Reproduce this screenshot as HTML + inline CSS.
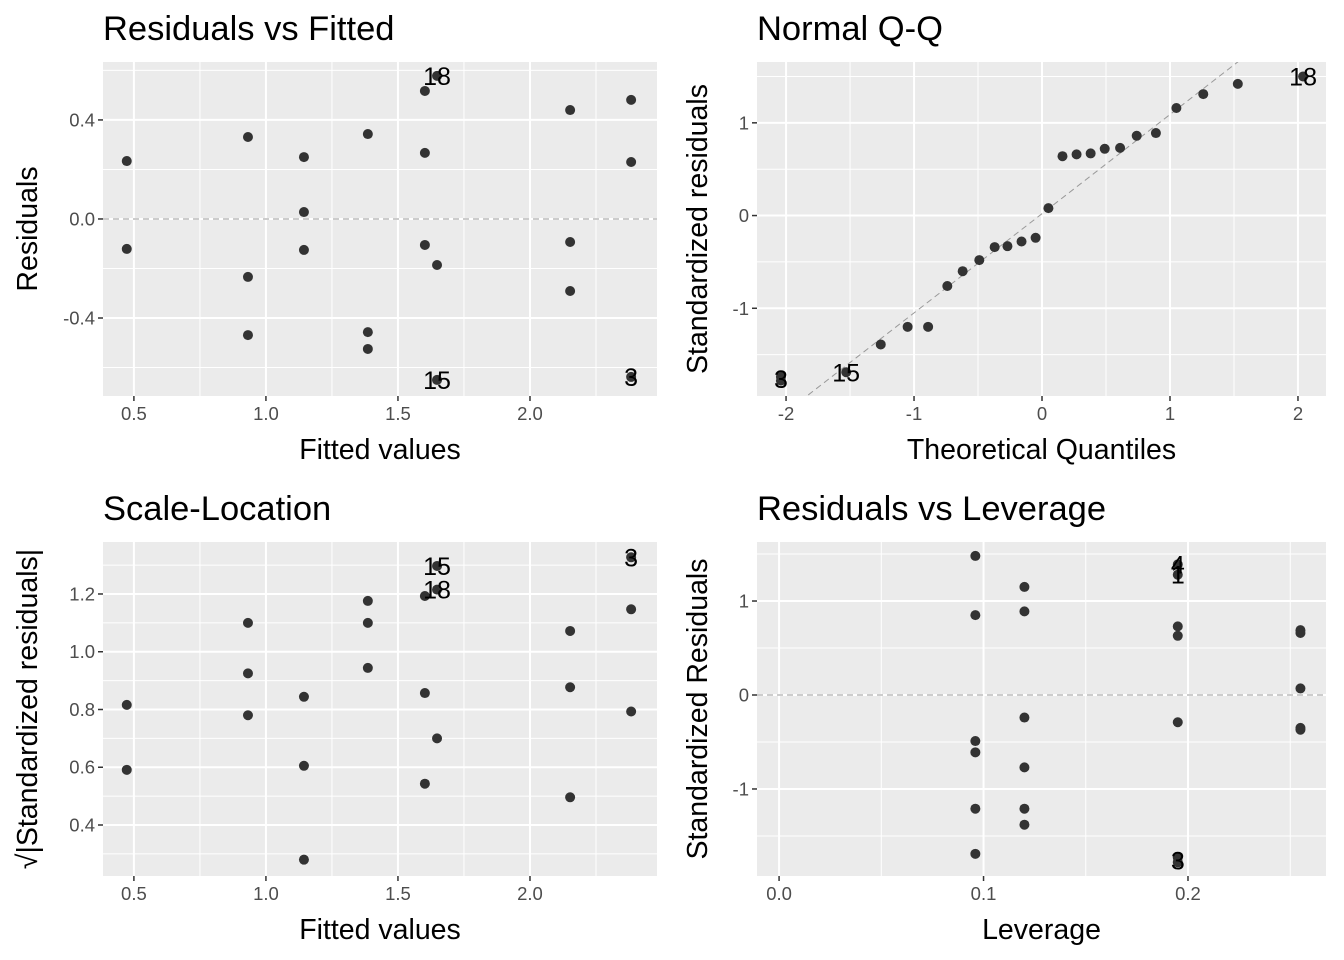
<!DOCTYPE html>
<html><head><meta charset="utf-8">
<style>
body{margin:0;background:#fff;}
svg{display:block;font-family:"Liberation Sans",Arial,sans-serif;}
</style></head>
<body>
<svg id="c" width="1344" height="960" xmlns="http://www.w3.org/2000/svg"></svg>
<script>
// Panel 1: Residuals vs Fitted
const fitted = [0.473,0.473,0.932,0.932,0.932,1.144,1.144,1.144,1.386,1.386,1.386,1.602,1.602,1.602,1.648,1.648,1.648,2.152,2.152,2.152,2.383,2.383,2.383];
const residuals = [0.234,-0.121,0.331,-0.234,-0.469,0.25,0.028,-0.125,0.343,-0.457,-0.525,0.517,0.267,-0.105,0.578,-0.186,-0.65,0.44,-0.093,-0.291,0.481,0.23,-0.638];
const p1Labels = [{x:1.648,y:0.578,t:"18"},{x:1.648,y:-0.65,t:"15"},{x:2.383,y:-0.638,t:"3"}];
// Panel 2: Normal Q-Q
const theoQ = [-2.04,-2.04,-1.53,-1.26,-1.05,-0.89,-0.74,-0.62,-0.49,-0.37,-0.27,-0.16,-0.05,0.05,0.16,0.27,0.38,0.49,0.61,0.74,0.89,1.05,1.26,1.53,2.04];
const stdRes = [-1.74,-1.78,-1.69,-1.39,-1.2,-1.2,-0.76,-0.6,-0.48,-0.34,-0.33,-0.28,-0.24,0.08,0.64,0.66,0.67,0.72,0.73,0.86,0.89,1.16,1.31,1.42,1.5];
const p2Labels = [{x:2.04,y:1.5,t:"18"},{x:-1.53,y:-1.69,t:"15"},{x:-2.04,y:-1.76,t:"3"}];
// Panel 3: Scale-Location
const sqrtStdRes = [0.816,0.591,1.100,0.925,0.780,0.844,0.605,0.280,1.176,1.100,0.944,1.193,0.857,0.543,1.297,1.215,0.700,1.072,0.877,0.496,1.327,1.147,0.793];
const p3Labels = [{x:1.648,y:1.297,t:"15"},{x:1.648,y:1.215,t:"18"},{x:2.383,y:1.327,t:"3"}];
// Panel 4: Residuals vs Leverage
const leverage = [0.096,0.096,0.096,0.096,0.096,0.096,0.120,0.120,0.120,0.120,0.120,0.120,0.195,0.195,0.195,0.195,0.195,0.195,0.195,0.255,0.255,0.255,0.255,0.255];
const stdRes4 = [1.48,0.85,-0.49,-0.61,-1.21,-1.69,1.15,0.89,-0.24,-0.77,-1.21,-1.38,1.39,1.28,0.73,0.63,-0.29,-1.73,-1.78,0.69,0.66,0.07,-0.35,-0.37];
const p4Labels = [{x:0.195,y:1.39,t:"4"},{x:0.195,y:1.28,t:"1"},{x:0.195,y:-1.76,t:"3"}];

const NS="http://www.w3.org/2000/svg";
const svg=document.getElementById('c');
function mk(tag,attrs,parent,txt){const e=document.createElementNS(NS,tag);for(const k in attrs)e.setAttribute(k,attrs[k]);if(txt!==undefined)e.textContent=txt;(parent||svg).appendChild(e);return e;}

function panel(o){
  const g=mk('g',{});
  
  
  const sx=v=>o.x0+(v-o.xr[0])/(o.xr[1]-o.xr[0])*(o.x1-o.x0);
  const sy=v=>o.y1-(v-o.yr[0])/(o.yr[1]-o.yr[0])*(o.y1-o.y0);
  const bg=mk('rect',{x:o.x0,y:o.y0,width:o.x1-o.x0,height:o.y1-o.y0,fill:'#ebebeb'},g);
  
  
  o.xminor.forEach(v=>mk('line',{x1:sx(v),x2:sx(v),y1:o.y0,y2:o.y1,stroke:'#fff','stroke-width':1},g));
  o.yminor.forEach(v=>mk('line',{y1:sy(v),y2:sy(v),x1:o.x0,x2:o.x1,stroke:'#fff','stroke-width':1},g));
  o.xt.forEach(v=>mk('line',{x1:sx(v),x2:sx(v),y1:o.y0,y2:o.y1,stroke:'#fff','stroke-width':2},g));
  o.yt.forEach(v=>mk('line',{y1:sy(v),y2:sy(v),x1:o.x0,x2:o.x1,stroke:'#fff','stroke-width':2},g));
  if(o.ref) o.ref(g,sx,sy,o);
  const xa=mk('g',{},g);
  
  
  o.xt.forEach((v,i)=>{mk('line',{x1:sx(v),x2:sx(v),y1:o.y1,y2:o.y1+5,stroke:'#333','stroke-width':1.5},xa);
    mk('text',{x:sx(v),y:o.y1+24,'font-size':18.5,fill:'#4d4d4d','text-anchor':'middle'},xa,o.xtl[i]);});
  const ya=mk('g',{},g);
  
  
  o.yt.forEach((v,i)=>{mk('line',{x1:o.x0-5,x2:o.x0,y1:sy(v),y2:sy(v),stroke:'#333','stroke-width':1.5},ya);
    mk('text',{x:o.x0-8,y:sy(v)+6.5,'font-size':18.5,fill:'#4d4d4d','text-anchor':'end'},ya,o.ytl[i]);});
  o.xs.forEach((v,i)=>{const c=mk('circle',{cx:sx(v),cy:sy(o.ys[i]),r:5,fill:'#333'},g);
    
    });
  o.labels.forEach(l=>{const t=mk('text',{x:sx(l.x),y:sy(l.y)+9,'font-size':25,fill:'#000','text-anchor':'middle'},g,l.t);
    
    });
  const ti=mk('text',{x:o.x0,y:o.y0-22,'font-size':34.5,fill:'#000'},g,o.title);
  
  
  const xtt=mk('text',{x:(o.x0+o.x1)/2,y:o.y1+63,'font-size':28.5,fill:'#000','text-anchor':'middle'},g,o.xlab);
  
  
  const cy=(o.y0+o.y1)/2;
  const ytt=mk('text',{x:0,y:0,'font-size':28.5,fill:'#000','text-anchor':'middle',transform:`translate(${o.ylx},${cy}) rotate(-90)`},g,o.ylab);
  
  
}
function hdash(v){return (g,sx,sy,o)=>mk('line',{x1:o.x0,x2:o.x1,y1:sy(v),y2:sy(v),stroke:'#999','stroke-width':1,'stroke-dasharray':'6,4'},g);}

panel({name:'residuals-vs-fitted',x0:103,x1:657,y0:62,y1:396,xr:[0.383,2.481],yr:[-0.715,0.634],
 xt:[0.5,1,1.5,2],xtl:['0.5','1.0','1.5','2.0'],yt:[-0.4,0,0.4],ytl:['-0.4','0.0','0.4'],
 xminor:[0.75,1.25,1.75,2.25],yminor:[-0.6,-0.2,0.2,0.6],xs:fitted,ys:residuals,labels:p1Labels,
 title:'Residuals vs Fitted',xlab:'Fitted values',ylab:'Residuals',ylx:37,ref:hdash(0)});
panel({name:'normal-qq',x0:757,x1:1326,y0:62,y1:396,xr:[-2.227,2.219],yr:[-1.946,1.656],
 xt:[-2,-1,0,1,2],xtl:['-2','-1','0','1','2'],yt:[-1,0,1],ytl:['-1','0','1'],
 xminor:[-1.5,-0.5,0.5,1.5],yminor:[-1.5,-0.5,0.5,1.5],xs:theoQ,ys:stdRes,labels:p2Labels,
 title:'Normal Q-Q',xlab:'Theoretical Quantiles',ylab:'Standardized residuals',ylx:707,
 ref:(g,sx,sy)=>{const cp=mk('clipPath',{id:'qc'},g);mk('rect',{x:757,y:62,width:569,height:334},cp);
   mk('line',{x1:sx(-3),y1:sy(-3*1.07+0.02),x2:sx(3),y2:sy(3*1.07+0.02),stroke:'#999','stroke-width':1,'stroke-dasharray':'6,4','clip-path':'url(#qc)'},g);}});
panel({name:'scale-location',x0:103,x1:657,y0:542,y1:876,xr:[0.383,2.481],yr:[0.2234,1.380],
 xt:[0.5,1,1.5,2],xtl:['0.5','1.0','1.5','2.0'],yt:[0.4,0.6,0.8,1.0,1.2],ytl:['0.4','0.6','0.8','1.0','1.2'],
 xminor:[0.75,1.25,1.75,2.25],yminor:[0.3,0.5,0.7,0.9,1.1,1.3],xs:fitted,ys:sqrtStdRes,labels:p3Labels,
 title:'Scale-Location',xlab:'Fitted values',ylab:'√|Standardized residuals|',ylx:37});
panel({name:'residuals-vs-leverage',x0:757,x1:1326,y0:542,y1:876,xr:[-0.0108,0.2675],yr:[-1.926,1.628],
 xt:[0,0.1,0.2],xtl:['0.0','0.1','0.2'],yt:[-1,0,1],ytl:['-1','0','1'],
 xminor:[0.05,0.15,0.25],yminor:[-1.5,-0.5,0.5,1.5],xs:leverage,ys:stdRes4,labels:p4Labels,
 title:'Residuals vs Leverage',xlab:'Leverage',ylab:'Standardized Residuals',ylx:707,ref:hdash(0)});
</script>
</body></html>
